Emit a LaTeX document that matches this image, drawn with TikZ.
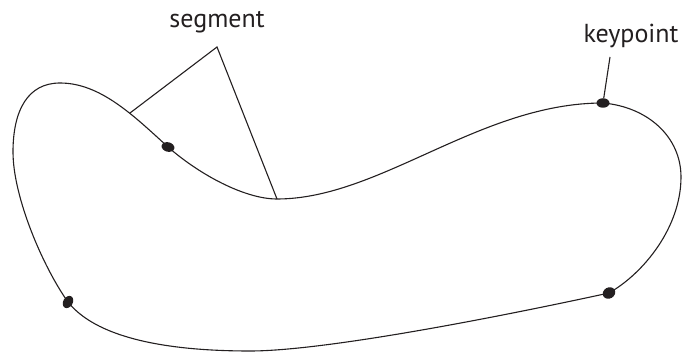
\documentclass[tikz,border=0pt]{standalone}
\usepackage{fontspec}
\setmainfont{PT Sans}
\usetikzlibrary{shapes.geometric}
\definecolor{ink}{HTML}{231F20}
\begin{document}
\begin{tikzpicture}[x=1pt,y=-1pt,
  outline/.style={draw=ink, line width=1.1pt, line join=round},
  leader/.style={draw=ink, line width=1.1pt},
  kp/.style={ellipse, fill=ink, inner sep=0pt, minimum width=13pt, minimum height=9.5pt},
  lbl/.style={text=ink, font=\fontsize{26}{30}\selectfont, anchor=base, inner sep=0pt}]
\useasboundingbox (0,0) rectangle (683,352);
% points on the outline
\coordinate (k1c) at (168,147);
\coordinate (m)   at (277,199);
\coordinate (k2c) at (603,103);
\coordinate (r)   at (681,177);
\coordinate (k4c) at (609,293);
\coordinate (b)   at (250,351);
\coordinate (k3c) at (68,302);
\coordinate (l)   at (13,152);
\coordinate (t)   at (60,83);
\coordinate (sa)  at (130,113);
% outline
\draw[outline] (k1c) .. controls (200,175) and (245,199) .. (m)
  .. controls (380,199) and (480,103) .. (k2c)
  .. controls (648,107) and (681,137) .. (r)
  .. controls (681,227) and (644,273) .. (k4c)
  .. controls (480,321) and (320,351) .. (b)
  .. controls (160,351) and (95,336) .. (k3c)
  .. controls (43,267) and (13,197) .. (l)
  .. controls (13,110) and (28,83) .. (t)
  .. controls (100,83) and (133,115) .. (k1c) -- cycle;
% keypoints
\node[kp, rotate=-15] (k1) at (k1c) {};
\node[kp] (k2) at (k2c) {};
\node[kp, rotate=60] (k3) at (k3c) {};
\node[kp, rotate=30, minimum height=11pt] (k4) at (k4c) {};
% labels
\node[lbl] (seglbl) at (217,28) {segment};
\node[lbl] (kplbl) at (631,43) {keypoint};
% leaders
\coordinate (apex) at (217,47);
\draw[leader, line join=miter] (sa) -- (apex) -- (m);
\coordinate (kl) at (610,57);
\draw[leader] (kl) -- (k2);
\end{tikzpicture}
\end{document}
